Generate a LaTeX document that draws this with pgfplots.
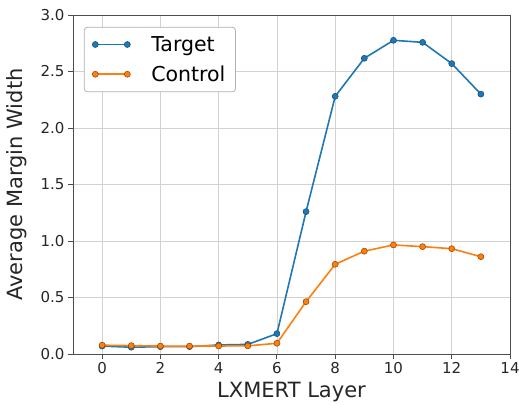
\documentclass[border=0pt]{standalone}
\usepackage{pgfplots}
\pgfplotsset{compat=1.18}
\usepackage{fontspec}
\setmainfont{DejaVu Sans}
\definecolor{tblue}{HTML}{1F77B4}
\definecolor{torange}{HTML}{FF7F0E}
\begin{document}
\begin{tikzpicture}
\begin{axis}[
  name=ax,
  scale only axis,
  width=437pt, height=339pt,
  xmin=-1, xmax=14, ymin=0, ymax=3,
  xtick={0,2,...,14},
  ytick={0,0.5,...,3.0},
  yticklabel style={/pgf/number format/.cd,fixed,fixed zerofill,precision=1},
  /pgf/number format/assume math mode=true,
  tick label style={font=\fontsize{15}{17}\selectfont, text=black!85},
  xlabel={LXMERT Layer}, ylabel={Average Margin Width},
  label style={font=\fontsize{21}{25}\selectfont, text=black!85},
  ylabel style={at={(axis description cs:-0.098,0.5)}, anchor=south},
  xlabel style={at={(axis description cs:0.5,-0.112)}, anchor=center},
  grid=major,
  grid style={gray!35, line width=0.8pt},
  axis line style={black!70, line width=0.9pt},
  tick style={black!70, line width=0.9pt},
  tick align=outside,
  major tick length=5pt,
  xtick pos=bottom, ytick pos=left,
  legend image code/.code={\draw[#1] (0pt,0pt) -- (32pt,0pt); \draw[#1, only marks] plot coordinates {(0pt,0pt) (32pt,0pt)};},
  legend style={at={(0.025,0.965)}, anchor=north west, font=\fontsize{20.5}{24}\selectfont,
    draw=black!30, line width=0.8pt, rounded corners=3pt, inner sep=8pt, row sep=11pt, column sep=19pt,
    nodes={inner ysep=1pt},
    cells={anchor=west}},
  legend cell align=left,
]
\addplot[tblue, line width=1.6pt, mark=*, mark size=3pt, mark options={fill=tblue, draw=tblue!70!black, line width=0.6pt}] coordinates {
(0,0.07) (1,0.06) (2,0.065) (3,0.065) (4,0.08) (5,0.085) (6,0.18) (7,1.26) (8,2.28) (9,2.617) (10,2.776) (11,2.758) (12,2.57) (13,2.30)};
\addlegendentry{Target}
\addplot[torange, line width=1.6pt, mark=*, mark size=3pt, mark options={fill=torange, draw=torange!60!black, line width=0.6pt}] coordinates {
(0,0.078) (1,0.074) (2,0.07) (3,0.07) (4,0.071) (5,0.072) (6,0.095) (7,0.463) (8,0.794) (9,0.91) (10,0.965) (11,0.95) (12,0.932) (13,0.861)};
\addlegendentry{Control}
\end{axis}
\pgfresetboundingbox
\path ([shift={(-73pt,-50pt)}]ax.south west) rectangle ([shift={(9pt,15pt)}]ax.north east);
\end{tikzpicture}
\end{document}
